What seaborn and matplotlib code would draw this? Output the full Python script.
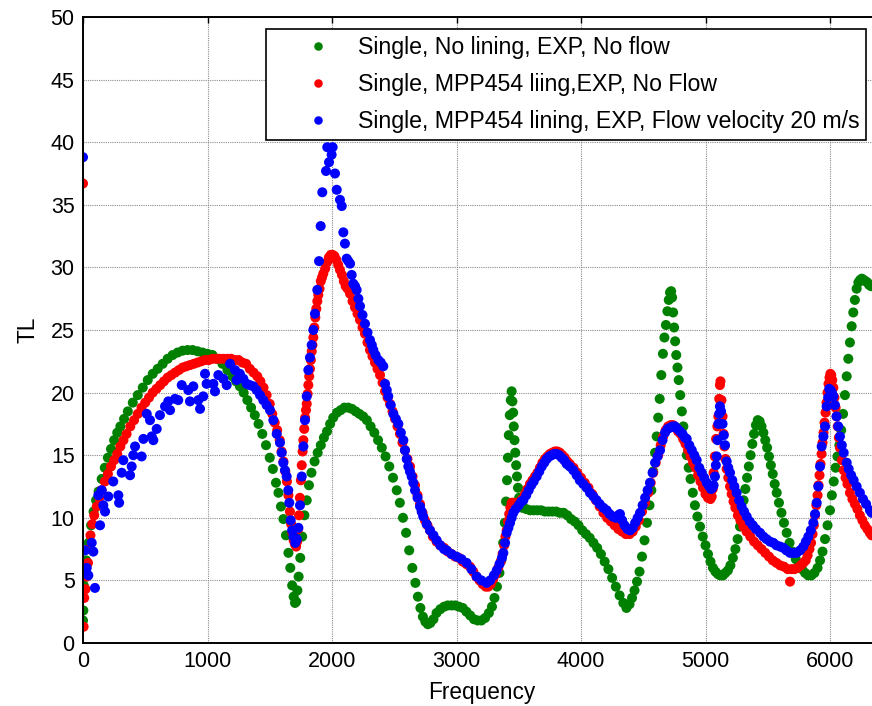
import numpy as np
import pandas as pd
import matplotlib
matplotlib.use("Agg")
import matplotlib.pyplot as plt
import seaborn as sns

# ---------------- data ----------------
series_names = [
    "Single, No lining, EXP, No flow",
    "Single, MPP454 liing,EXP, No Flow",
    "Single, MPP454 lining, EXP, Flow velocity 20 m/s",
]
series_colors = ["#008000", "#ff0000", "#0000ff"]

green_f = [0, 3, 6, 10, 25, 45, 65, 85, 105, 125, 150, 175, 200, 225, 250, 275, 300, 330, 360, 400,
           440, 480, 520, 560, 600, 640, 680, 720, 760, 800, 840, 880, 920, 960, 1000, 1040, 1080, 1120,
           1160, 1200, 1230, 1260, 1290, 1320, 1350, 1380, 1410, 1440, 1470, 1500, 1525, 1550, 1570,
           1590, 1610, 1630, 1650, 1665, 1680, 1692, 1703, 1712, 1722, 1732, 1745, 1760, 1778, 1797,
           1815, 1835, 1860, 1885, 1910, 1935, 1960, 1985, 2010, 2040, 2070, 2100, 2130, 2160, 2190,
           2220, 2250, 2280, 2310, 2340, 2370, 2400, 2430, 2460, 2490, 2520, 2545, 2570, 2595, 2620,
           2645, 2670, 2690, 2710, 2730, 2750, 2770, 2790, 2815, 2840, 2870, 2900, 2930, 2960, 2990,
           3020, 3050, 3080, 3110, 3140, 3170, 3200, 3230, 3260, 3285, 3305, 3325, 3345, 3360, 3375,
           3388, 3398, 3406, 3413, 3420, 3428, 3436, 3443, 3449, 3455, 3460, 3466, 3472, 3479, 3486,
           3494, 3503, 3515, 3530, 3560, 3590, 3620, 3650, 3680, 3710, 3740, 3770, 3800, 3830, 3860,
           3890, 3920, 3950, 3980, 4010, 4040, 4070, 4100, 4130, 4160, 4190, 4220, 4250, 4280, 4310,
           4340, 4365, 4390, 4410, 4430, 4450, 4470, 4490, 4510, 4530, 4550, 4565, 4580, 4595, 4608,
           4620, 4632, 4645, 4658, 4670, 4682, 4694, 4705, 4715, 4724, 4732, 4740, 4748, 4756, 4765,
           4775, 4785, 4797, 4810, 4822, 4836, 4850, 4865, 4880, 4898, 4915, 4935, 4956, 4978, 5000,
           5020, 5040, 5060, 5080, 5100, 5120, 5140, 5160, 5180, 5200, 5220, 5240, 5258, 5277, 5292,
           5306, 5320, 5334, 5348, 5362, 5376, 5390, 5405, 5420, 5435, 5450, 5465, 5480, 5495, 5510,
           5525, 5540, 5556, 5572, 5590, 5610, 5630, 5652, 5675, 5700, 5725, 5750, 5775, 5800, 5825,
           5850, 5875, 5900, 5920, 5940, 5960, 5980, 6000, 6015, 6030, 6045, 6060, 6075, 6090, 6105,
           6120, 6134, 6147, 6160, 6174, 6187, 6200, 6214, 6228, 6242, 6256, 6270, 6285, 6300, 6315,
           6330]
green_tl = [1.8, 2.6, 4.6, 5.3, 6.6, 8.0, 9.4, 10.5, 11.4, 12.1, 13.1, 14.0, 14.8, 15.5, 16.2, 16.8,
            17.3, 17.9, 18.5, 19.2, 19.8, 20.4, 21.0, 21.5, 21.9, 22.3, 22.7, 23.0, 23.2, 23.35, 23.4,
            23.4, 23.3, 23.2, 23.1, 23.0, 22.7, 22.3, 21.8, 21.3, 20.9, 20.5, 20.0, 19.4, 18.8, 18.2,
            17.5, 16.7, 15.8, 14.8, 13.9, 12.8, 12.0, 10.9, 9.9, 8.6, 7.2, 6.0, 4.6, 3.7, 3.2, 3.3, 4.2,
            5.3, 6.8, 8.5, 10.2, 11.4, 12.6, 13.6, 14.5, 15.2, 15.8, 16.4, 16.9, 17.5, 18.0, 18.4, 18.6,
            18.8, 18.8, 18.7, 18.5, 18.3, 18.1, 17.8, 17.3, 16.8, 16.2, 15.6, 14.9, 14.1, 13.2, 12.2,
            11.2, 10.0, 8.8, 7.4, 6.0, 4.8, 3.7, 2.8, 2.1, 1.7, 1.5, 1.6, 1.9, 2.4, 2.7, 2.9, 3.0, 3.0,
            3.0, 2.9, 2.8, 2.5, 2.2, 1.9, 1.8, 1.8, 2.0, 2.4, 2.9, 3.6, 4.5, 5.6, 6.6, 8.0, 9.6, 11.3,
            13.0, 14.8, 16.6, 18.2, 19.4, 20.1, 19.3, 18.4, 17.3, 16.2, 15.2, 14.2, 13.3, 12.4, 11.6,
            11.0, 10.8, 10.7, 10.6, 10.6, 10.6, 10.6, 10.5, 10.5, 10.5, 10.5, 10.4, 10.4, 10.2, 9.9,
            9.7, 9.4, 9.0, 8.7, 8.4, 8.0, 7.6, 7.1, 6.5, 5.9, 5.2, 4.5, 3.8, 3.2, 2.8, 3.1, 3.6, 4.2,
            4.9, 5.7, 6.9, 8.2, 9.6, 11.0, 12.2, 13.7, 15.2, 16.5, 18.0, 19.5, 21.4, 23.1, 24.4, 25.4,
            26.5, 27.4, 28.0, 28.1, 27.6, 26.4, 25.2, 24.1, 23.0, 22.0, 21.0, 19.8, 18.5, 17.3, 16.1,
            15.0, 14.0, 13.1, 12.0, 11.0, 10.1, 9.3, 8.5, 7.8, 7.1, 6.5, 6.0, 5.7, 5.5, 5.4, 5.4, 5.6,
            5.8, 6.2, 6.8, 7.5, 8.3, 9.3, 10.4, 11.4, 12.3, 13.2, 14.1, 15.0, 15.9, 16.7, 17.4, 17.8,
            17.7, 17.3, 16.8, 16.2, 15.6, 14.9, 14.2, 13.5, 12.7, 12.0, 11.2, 10.4, 9.6, 8.8, 8.0, 7.3,
            6.7, 6.3, 5.9, 5.6, 5.4, 5.4, 5.6, 6.0, 6.6, 7.3, 8.3, 9.4, 10.6, 11.8, 12.9, 14.0, 14.9,
            15.8, 17.0, 18.3, 19.8, 21.3, 22.7, 24.0, 25.3, 26.4, 27.4, 28.3, 28.8, 29.0, 29.1, 29.0,
            28.9, 28.8, 28.6, 28.5]

red_f = [0, 5, 10, 20, 30, 40, 50, 60, 75, 90, 110, 130, 150, 175, 200, 225, 250, 275, 300, 325, 350,
         380, 410, 440, 470, 500, 530, 560, 590, 620, 650, 680, 710, 740, 770, 800, 830, 860, 890, 920,
         950, 980, 1010, 1040, 1070, 1100, 1130, 1160, 1190, 1220, 1250, 1280, 1310, 1340, 1370, 1400,
         1425, 1450, 1475, 1500, 1520, 1540, 1560, 1580, 1595, 1610, 1625, 1638, 1650, 1662, 1672,
         1682, 1692, 1702, 1712, 1720, 1728, 1735, 1742, 1750, 1757, 1764, 1770, 1777, 1784, 1791,
         1797, 1804, 1810, 1817, 1823, 1830, 1837, 1843, 1850, 1858, 1866, 1874, 1882, 1890, 1900,
         1910, 1920, 1930, 1945, 1960, 1975, 1990, 2005, 2020, 2035, 2050, 2064, 2080, 2095, 2110,
         2125, 2145, 2165, 2185, 2205, 2225, 2245, 2265, 2285, 2305, 2325, 2345, 2365, 2386, 2406,
         2426, 2446, 2466, 2486, 2506, 2526, 2546, 2566, 2586, 2606, 2627, 2647, 2667, 2687, 2707,
         2727, 2747, 2767, 2787, 2810, 2840, 2870, 2900, 2930, 2960, 2990, 3020, 3050, 3080, 3108,
         3135, 3160, 3185, 3210, 3235, 3255, 3275, 3295, 3315, 3335, 3355, 3370, 3383, 3393, 3403,
         3413, 3423, 3433, 3443, 3456, 3470, 3490, 3510, 3530, 3550, 3570, 3590, 3610, 3630, 3650,
         3670, 3690, 3710, 3730, 3750, 3770, 3790, 3810, 3830, 3850, 3870, 3890, 3910, 3940, 3970,
         4000, 4030, 4060, 4090, 4120, 4150, 4180, 4210, 4240, 4270, 4300, 4330, 4360, 4390, 4415,
         4440, 4465, 4490, 4515, 4540, 4560, 4580, 4600, 4620, 4640, 4660, 4680, 4700, 4720, 4740,
         4760, 4780, 4800, 4820, 4840, 4860, 4880, 4900, 4920, 4940, 4960, 4980, 5000, 5020, 5040,
         5050, 5058, 5065, 5075, 5085, 5095, 5103, 5110, 5116, 5120, 5128, 5137, 5145, 5152, 5160,
         5170, 5183, 5197, 5210, 5225, 5240, 5260, 5280, 5304, 5330, 5360, 5390, 5420, 5450, 5480,
         5510, 5540, 5570, 5600, 5630, 5660, 5679, 5690, 5715, 5740, 5765, 5786, 5805, 5820, 5835,
         5848, 5860, 5870, 5880, 5890, 5900, 5908, 5916, 5924, 5932, 5940, 5948, 5956, 5964, 5972,
         5980, 5988, 5996, 6003, 6010, 6018, 6027, 6036, 6045, 6053, 6062, 6071, 6080, 6095, 6110,
         6125, 6140, 6160, 6180, 6200, 6220, 6240, 6260, 6280, 6300, 6320, 6335]
red_tl = [36.7, 1.3, 3.6, 4.3, 5.3, 6.4, 7.5, 8.6, 9.5, 10.2, 10.9, 11.6, 12.2, 12.9, 13.5, 14.1, 14.6,
          15.1, 15.7, 16.2, 16.7, 17.3, 17.8, 18.3, 18.8, 19.2, 19.6, 20.0, 20.3, 20.6, 20.9, 21.2, 21.4,
          21.6, 21.8, 22.0, 22.1, 22.2, 22.3, 22.4, 22.5, 22.6, 22.6, 22.7, 22.7, 22.7, 22.7, 22.7, 22.7,
          22.6, 22.6, 22.4, 22.3, 21.9, 21.6, 21.3, 20.9, 20.4, 19.8, 19.1, 18.3, 17.6, 17.0, 16.2, 15.3,
          14.5, 13.7, 12.9, 11.8, 10.5, 9.5, 8.8, 8.2, 7.9, 7.7, 8.1, 9.1, 10.2, 11.6, 13.0, 14.2, 15.3,
          16.2, 17.1, 18.0, 18.6, 19.1, 19.9, 20.6, 21.3, 21.9, 22.6, 23.3, 23.8, 24.4, 25.2, 26.0, 26.7,
          27.3, 27.8, 28.3, 28.9, 29.2, 29.5, 29.9, 30.4, 30.8, 31.0, 31.0, 30.9, 30.6, 30.2, 29.8, 29.4,
          28.9, 28.5, 28.3, 27.9, 27.3, 26.8, 26.3, 25.8, 25.2, 24.7, 24.0, 23.4, 22.9, 22.4, 21.9, 21.4,
          20.8, 20.1, 19.6, 19.1, 18.5, 17.9, 17.3, 16.7, 16.0, 15.4, 14.7, 14.1, 13.3, 12.6, 11.8, 11.1,
          10.4, 9.8, 9.4, 9.0, 8.5, 8.1, 7.8, 7.6, 7.3, 7.1, 6.9, 6.8, 6.5, 6.3, 6.1, 5.7, 5.3, 5.0, 4.7,
          4.5, 4.5, 4.7, 5.1, 5.5, 6.0, 6.5, 7.1, 7.8, 8.5, 9.0, 9.7, 10.3, 10.8, 11.2, 11.2, 11.1, 11.2,
          11.3, 11.5, 11.9, 12.3, 12.7, 13.0, 13.3, 13.6, 14.0, 14.4, 14.7, 14.9, 15.1, 15.2, 15.3, 15.3,
          15.2, 15.0, 14.8, 14.5, 14.3, 14.0, 13.6, 13.2, 12.8, 12.4, 11.9, 11.4, 10.9, 10.4, 10.0, 9.7,
          9.4, 9.1, 8.9, 8.7, 8.7, 8.9, 9.3, 9.8, 10.5, 11.2, 12.0, 12.8, 13.6, 14.4, 15.0, 15.8, 16.5,
          17.0, 17.3, 17.4, 17.4, 17.2, 16.9, 16.7, 16.3, 15.9, 15.4, 14.9, 14.4, 14.0, 13.4, 12.9, 12.4,
          11.9, 11.6, 11.5, 11.7, 12.3, 13.6, 14.9, 16.3, 17.3, 18.1, 19.5, 20.6, 20.9, 19.4, 18.1, 16.7,
          15.7, 14.7, 13.9, 13.2, 12.5, 11.9, 11.3, 10.8, 10.2, 9.8, 9.3, 8.9, 8.5, 8.1, 7.8, 7.5, 7.2,
          6.9, 6.6, 6.4, 6.2, 6.1, 5.9, 4.9, 5.9, 5.9, 6.0, 6.2, 6.4, 6.6, 7.0, 7.5, 8.0, 8.7, 9.4, 10.2,
          11.0, 11.8, 12.6, 13.4, 14.3, 15.1, 16.0, 16.8, 17.6, 18.4, 19.2, 20.0, 20.7, 21.2, 21.5, 21.4,
          21.0, 20.4, 19.6, 18.8, 18.1, 17.3, 16.4, 15.6, 14.6, 13.8, 13.2, 12.7, 12.0, 11.5, 11.1, 10.7,
          10.2, 9.8, 9.4, 9.1, 8.8, 8.6]

blue_f = [0, 16, 30, 43, 70, 83, 96, 123, 137, 150, 163, 177, 203, 243, 284, 290, 311, 324, 378, 391,
          404, 418, 471, 485, 512, 538, 552, 565, 592, 618, 659, 685, 699, 739, 765, 793, 846, 859, 886,
          926, 940, 966, 980, 993, 1047, 1060, 1087, 1127, 1154, 1181, 1221, 1234, 1260, 1288, 1315,
          1340, 1368, 1395, 1422, 1448, 1475, 1502, 1529, 1556, 1582, 1596, 1609, 1622, 1636, 1649,
          1657, 1668, 1680, 1690, 1705, 1718, 1730, 1743, 1757, 1770, 1783, 1797, 1810, 1823, 1837,
          1850, 1863, 1882, 1896, 1909, 1922, 1952, 1962, 1976, 1997, 2005, 2024, 2038, 2064, 2078,
          2091, 2104, 2118, 2131, 2145, 2158, 2171, 2185, 2198, 2212, 2225, 2245, 2265, 2285, 2305,
          2320, 2332, 2350, 2372, 2392, 2412, 2426, 2440, 2452, 2472, 2493, 2513, 2533, 2553, 2573,
          2586, 2600, 2613, 2626, 2640, 2653, 2667, 2687, 2707, 2720, 2733, 2760, 2787, 2815, 2841,
          2870, 2900, 2921, 2960, 3000, 3040, 3081, 3120, 3162, 3200, 3242, 3270, 3300, 3323, 3345,
          3365, 3376, 3390, 3403, 3417, 3430, 3443, 3456, 3475, 3500, 3520, 3537, 3560, 3580, 3600,
          3620, 3644, 3665, 3685, 3705, 3725, 3745, 3765, 3785, 3805, 3825, 3845, 3865, 3885, 3910,
          3938, 3965, 3990, 4018, 4045, 4072, 4100, 4125, 4150, 4180, 4206, 4230, 4255, 4280, 4300,
          4313, 4330, 4350, 4372, 4394, 4415, 4435, 4455, 4474, 4495, 4515, 4535, 4554, 4575, 4595,
          4615, 4635, 4655, 4675, 4695, 4715, 4735, 4755, 4775, 4795, 4815, 4835, 4849, 4870, 4890,
          4910, 4929, 4950, 4970, 4990, 5010, 5030, 5045, 5055, 5065, 5076, 5083, 5090, 5097, 5103,
          5110, 5116, 5125, 5137, 5147, 5157, 5170, 5183, 5197, 5215, 5232, 5250, 5270, 5290, 5310,
          5331, 5355, 5380, 5405, 5438, 5465, 5490, 5518, 5545, 5570, 5600, 5625, 5650, 5679, 5705,
          5732, 5760, 5786, 5806, 5826, 5846, 5866, 5880, 5893, 5906, 5920, 5933, 5947, 5960, 5973,
          5985, 5994, 6005, 6015, 6027, 6040, 6053, 6066, 6080, 6095, 6110, 6134, 6150, 6170, 6190,
          6214, 6240, 6265, 6290, 6321, 6335]
blue_tl = [38.8, 7.4, 6.0, 5.4, 8.0, 7.3, 4.4, 11.8, 9.4, 12.2, 11.0, 10.5, 11.7, 12.9, 11.8, 11.2,
           13.6, 14.6, 13.4, 14.1, 15.0, 15.7, 14.9, 16.3, 18.3, 17.8, 16.5, 16.2, 17.1, 18.2, 18.9,
           19.3, 18.6, 19.5, 19.4, 20.6, 20.2, 19.3, 20.5, 19.4, 18.7, 19.7, 21.5, 20.7, 20.7, 20.1,
           21.4, 21.1, 20.6, 22.3, 21.8, 21.0, 21.5, 21.1, 20.7, 20.6, 20.5, 20.2, 19.8, 19.4, 19.0,
           18.6, 17.8, 16.7, 16.0, 15.2, 14.4, 13.8, 13.3, 12.2, 11.2, 9.8, 9.0, 8.5, 8.0, 8.3, 9.2,
           11.0, 13.3, 15.7, 17.8, 19.7, 21.8, 22.8, 23.8, 25.0, 26.3, 28.2, 30.5, 33.3, 36.0, 37.7,
           39.6, 38.4, 39.0, 39.6, 37.5, 36.2, 35.4, 34.9, 32.8, 31.9, 30.7, 30.5, 30.3, 29.4, 28.7,
           28.5, 28.2, 27.5, 26.9, 26.2, 25.5, 24.8, 24.2, 23.8, 23.4, 23.0, 22.6, 22.4, 22.1, 20.7,
           20.2, 19.7, 19.0, 18.3, 17.9, 17.5, 16.8, 16.2, 15.4, 14.7, 14.1, 13.7, 13.3, 12.8, 12.2,
           11.6, 10.9, 10.5, 10.1, 9.5, 9.0, 8.6, 8.2, 7.8, 7.5, 7.4, 7.1, 6.9, 6.7, 6.4, 5.9, 5.3,
           5.0, 4.8, 5.0, 5.4, 5.8, 6.3, 6.8, 7.2, 8.0, 8.8, 9.2, 9.6, 10.0, 10.4, 10.7, 11.0, 11.3,
           11.4, 11.8, 12.2, 12.6, 12.9, 13.3, 13.7, 14.1, 14.4, 14.7, 14.9, 15.0, 15.1, 15.1, 15.0,
           14.8, 14.6, 14.3, 14.1, 13.8, 13.4, 13.0, 12.7, 12.4, 12.0, 11.7, 11.4, 11.1, 10.8, 10.6,
           10.3, 10.1, 10.0, 10.2, 10.3, 9.8, 9.4, 9.1, 9.0, 9.2, 9.6, 10.0, 10.4, 11.0, 11.6, 12.2,
           12.8, 13.6, 14.4, 14.9, 15.4, 16.2, 16.8, 17.1, 17.2, 17.3, 17.3, 17.1, 16.9, 16.7, 16.4,
           16.3, 15.8, 15.4, 15.0, 14.6, 14.0, 13.6, 13.2, 12.8, 12.5, 12.3, 12.4, 12.6, 13.3, 14.2,
           14.9, 16.2, 17.5, 18.3, 18.9, 18.5, 17.5, 16.6, 15.8, 14.5, 14.0, 13.6, 13.0, 12.5, 12.0,
           11.4, 10.9, 10.5, 10.1, 9.7, 9.4, 9.1, 8.8, 8.5, 8.3, 8.1, 8.0, 7.8, 7.7, 7.6, 7.4, 7.2,
           7.2, 7.2, 7.4, 7.7, 8.1, 8.5, 9.0, 9.6, 10.3, 11.2, 12.5, 14.1, 15.7, 16.5, 17.3, 18.9,
           19.6, 20.3, 20.2, 20.0, 19.7, 19.0, 18.1, 17.3, 16.5, 15.8, 15.2, 14.4, 13.9, 13.4, 13.0,
           12.5, 12.0, 11.5, 11.1, 10.6, 10.4]

x_ticks = [0, 1000, 2000, 3000, 4000, 5000, 6000]
y_ticks = [0, 5, 10, 15, 20, 25, 30, 35, 40, 45, 50]

# ---------------- build table ----------------
frames = []
for name, f, tl in zip(series_names, [green_f, red_f, blue_f], [green_tl, red_tl, blue_tl]):
    frames.append(pd.DataFrame({"Frequency": f, "TL": tl, "series": name}))
df = pd.concat(frames, ignore_index=True)

# ---------------- style ----------------
sns.set_style("white")
plt.rcParams["font.family"] = ["Liberation Sans", "DejaVu Sans"]
plt.rcParams["font.size"] = 15.5
plt.rcParams["text.color"] = "black"
plt.rcParams["axes.labelcolor"] = "black"
plt.rcParams["xtick.color"] = "black"
plt.rcParams["ytick.color"] = "black"

fig = plt.figure(figsize=(8.72, 7.06), dpi=100)
ax = fig.add_axes([83 / 872, 63 / 706, 0.915, 626 / 706])

sns.scatterplot(data=df, x="Frequency", y="TL", hue="series",
                hue_order=series_names, palette=series_colors,
                s=52, linewidth=0, edgecolor="none", ax=ax, legend=True)

ax.set_xlim(0, 0.915 * 872 / 0.1245)
ax.set_ylim(0, 50)
ax.set_xticks(x_ticks)
ax.set_yticks(y_ticks)
ax.tick_params(direction="in", length=4, width=1, top=True, right=True,
               labelsize=15.5, colors="black", labelcolor="black", pad=6)
ax.grid(True, color="#8c8c8c", linestyle=(0, (1, 1)), linewidth=0.8)
ax.set_axisbelow(True)
for sp in ax.spines.values():
    sp.set_color("black")
    sp.set_linewidth(1.4)

ax.set_xlabel("Frequency", fontsize=16.3, labelpad=6, color="black")
ax.set_ylabel("TL", fontsize=16.3, labelpad=8, color="black")

leg = ax.legend(loc="upper left", bbox_to_anchor=(266 / 872, 1 - 29 / 706),
                bbox_transform=fig.transFigure, frameon=True, fancybox=False,
                fontsize=16.7, borderpad=0.3, handlelength=3.85, handletextpad=-0.2,
                labelspacing=0.6, markerscale=0.85, borderaxespad=0)
for t in leg.get_texts():
    t.set_color("black")
leg.get_frame().set_edgecolor("black")
leg.get_frame().set_linewidth(1.2)
leg.get_frame().set_facecolor("white")
leg.get_frame().set_alpha(1)

fig.savefig("out.png", dpi=100)
